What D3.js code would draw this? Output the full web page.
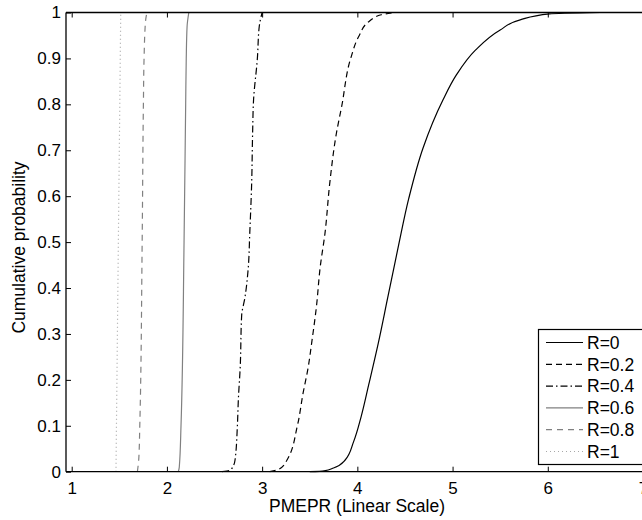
<!DOCTYPE html>
<html><head><meta charset="utf-8">
<script src="https://cdn.jsdelivr.net/npm/d3@7"></script>
<style>body{margin:0;background:#fff;} svg{display:block;}</style>
</head><body>
<script>
const seriesNames = ["R=0","R=0.2","R=0.4","R=0.6","R=0.8","R=1"];
// [PMEPR, cumulative probability]
const r0 = [[3.5,0],[3.65,0.002],[3.75,0.008],[3.87,0.025],[3.96,0.065],[4.04,0.12],[4.12,0.19],[4.22,0.28],[4.32,0.38],[4.43,0.49],[4.54,0.595],[4.69,0.705],[4.90,0.81],[5.04,0.864],[5.24,0.918],[5.50,0.962],[5.71,0.984],[6.02,0.997],[6.55,1]];
const r02 = [[3.08,0],[3.18,0.006],[3.26,0.025],[3.37,0.1],[3.43,0.171],[3.485,0.229],[3.52,0.28],[3.57,0.359],[3.61,0.446],[3.66,0.519],[3.71,0.628],[3.78,0.737],[3.835,0.795],[3.93,0.9],[4.02,0.95],[4.12,0.98],[4.25,0.995],[4.4,1]];
const r04 = [[2.58,0],[2.67,0.004],[2.715,0.025],[2.74,0.1],[2.75,0.156],[2.77,0.229],[2.785,0.34],[2.82,0.38],[2.855,0.446],[2.87,0.519],[2.89,0.628],[2.90,0.737],[2.91,0.81],[2.95,0.9],[2.97,0.97],[3.0,1]];
const r06 = [[2.12,0],[2.13,0.01],[2.148,0.1],[2.18,0.5],[2.197,0.8],[2.203,0.9],[2.212,0.97],[2.23,1]];
const r08 = [[1.69,0],[1.705,0.03],[1.715,0.1],[1.74,0.5],[1.753,0.8],[1.76,0.9],[1.775,0.98],[1.79,1]];
const r1 = [[1.465,0],[1.47,0.1],[1.49,0.5],[1.505,0.8],[1.515,1]];
const seriesData = [r0,r02,r04,r06,r08,r1];
const seriesColors = ["#000","#000","#000","#808080","#808080","#a8a8a8"];
const seriesDash = ["none","6,4","7,3,1.5,3","none","6,5","1,3"];
const xTicks = [1,2,3,4,5,6,7];
const yTicks = [0,0.1,0.2,0.3,0.4,0.5,0.6,0.7,0.8,0.9,1];

const W=642,H=520;
const svg=d3.select("body").append("svg").attr("width",W).attr("height",H);
const font="'Liberation Sans', Arial, Helvetica, sans-serif";
const x=d3.scaleLinear().domain([1,7]).range([71.7,643]);
const y=d3.scaleLinear().domain([0,1]).range([471.7,12.5]);
const left=66, right=720;

const g=svg.append("g");
const line=d3.line().x(d=>x(d[0])).y(d=>y(d[1])).curve(d3.curveMonotoneY);
seriesData.forEach((s,i)=>{
  g.append("path").attr("d",line(s)).attr("fill","none")
   .attr("stroke",seriesColors[i]).attr("stroke-width",1.2)
   .attr("stroke-dasharray",seriesDash[i]);
});

// axes
const xb=svg.append("g").attr("transform",`translate(0,${y(0)})`)
  .call(d3.axisBottom(x).tickValues(xTicks).tickSize(-5).tickPadding(10).tickFormat(d3.format("d")));
const xt=svg.append("g").attr("transform",`translate(0,${y(1)})`)
  .call(d3.axisTop(x).tickValues(xTicks).tickSize(-5).tickFormat(""));
const yl=svg.append("g").attr("transform",`translate(${left},0)`)
  .call(d3.axisLeft(y).tickValues(yTicks).tickSize(-5).tickPadding(5).tickFormat(d=>d3.format("")(+d.toFixed(1))));
[xb,xt,yl].forEach(a=>{
  a.select(".domain").remove();
  a.selectAll("line").attr("stroke","#000");
  a.selectAll("text").attr("font-family",font).attr("font-size",17).attr("fill","#000");
});
svg.append("line").attr("x1",left).attr("x2",right).attr("y1",y(0)).attr("y2",y(0)).attr("stroke","#000").attr("stroke-width",1.3);
svg.append("line").attr("x1",left).attr("x2",right).attr("y1",y(1)).attr("y2",y(1)).attr("stroke","#000").attr("stroke-width",1.3);
svg.append("line").attr("x1",left).attr("x2",left).attr("y1",y(0)).attr("y2",y(1)).attr("stroke","#000").attr("stroke-width",1.3);

// labels
svg.append("text").attr("x",357).attr("y",512).attr("text-anchor","middle")
  .attr("font-family",font).attr("font-size",17.5).text("PMEPR (Linear Scale)");
svg.append("text").attr("transform",`translate(25,247.5) rotate(-90)`).attr("text-anchor","middle")
  .attr("font-family",font).attr("font-size",17.5).text("Cumulative probability");

// legend
const lg=svg.append("g");
lg.append("rect").attr("x",538.5).attr("y",329.5).attr("width",130).attr("height",135)
  .attr("fill","#fff").attr("stroke","#000").attr("stroke-width",1.2);
seriesNames.forEach((n,i)=>{
  const yy=342.5+i*21.8;
  lg.append("line").attr("x1",546).attr("x2",583).attr("y1",yy).attr("y2",yy)
    .attr("stroke",seriesColors[i]).attr("stroke-width",1.2).attr("stroke-dasharray",seriesDash[i]);
  lg.append("text").attr("x",587).attr("y",yy+6.2).attr("font-family",font).attr("font-size",17.5).text(n);
});
</script>
</body></html>
